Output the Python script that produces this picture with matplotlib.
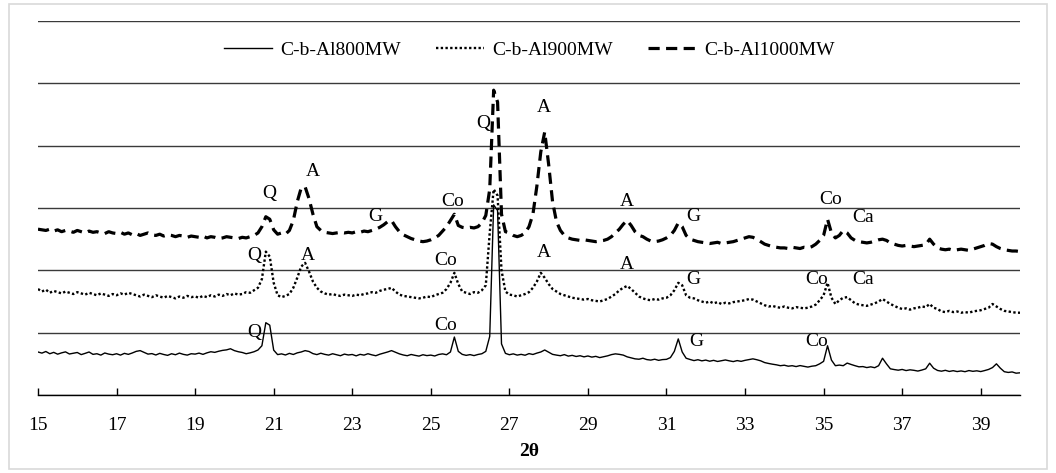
import matplotlib
matplotlib.use('Agg')
import matplotlib.pyplot as plt
from matplotlib.patches import Rectangle
import numpy as np

plt.rcParams['font.family'] = ['Liberation Serif', 'DejaVu Serif']

# 2theta grid, 15 to 40 in 0.1 steps
two_theta = np.round(np.arange(15.0, 40.05, 0.1), 1)

al800 = [
    690, 672, 698, 662, 684, 655, 676, 692, 658, 670,
    682, 648, 668, 690, 652, 662, 640, 674, 656, 646,
    662, 640, 668, 652, 674, 700, 712, 684, 656, 664,
    642, 668, 650, 636, 662, 646, 672, 652, 640, 662,
    656, 672, 652, 676, 694, 684, 702, 716, 724, 742,
    712, 694, 682, 662, 676, 694, 722, 790, 1160, 1120,
    720, 648, 660, 642, 668, 650, 676, 690, 712, 698,
    664, 648, 670, 652, 640, 662, 646, 630, 656, 642,
    650, 628, 652, 640, 662, 644, 630, 654, 672, 690,
    712, 686, 660, 642, 630, 650, 636, 624, 646, 632,
    640, 626, 650, 660, 646, 690, 930, 700, 652, 636,
    648, 632, 650, 662, 700, 940, 3050, 2960, 820, 668,
    646, 660, 640, 652, 638, 664, 650, 672, 690, 722,
    686, 652, 640, 630, 648, 624, 636, 618, 630, 612,
    626, 608, 620, 600, 614, 628, 648, 660, 652, 640,
    612, 596, 580, 574, 590, 568, 560, 574, 556, 568,
    572, 600, 700, 900, 690, 590, 570, 552, 566, 548,
    560, 542, 556, 538, 550, 562, 548, 536, 552, 540,
    556, 568, 580, 566, 548, 520, 506, 494, 484, 470,
    478, 462, 470, 456, 472, 460, 448, 462, 470, 500,
    540, 790, 560, 470, 480, 470, 512, 490, 470, 452,
    456, 440, 452, 438, 470, 590, 500, 420, 408, 398,
    410, 392, 404, 396, 384, 400, 420, 510, 430, 394,
    382, 396, 378, 390, 376, 386, 374, 392, 380, 388,
    376, 392, 410, 440, 500, 430, 374, 362, 370, 350,
    356,
]

al900 = [
    1700, 1660, 1690, 1640, 1670, 1650, 1630, 1660, 1640, 1620,
    1650, 1630, 1610, 1640, 1620, 1600, 1630, 1610, 1590, 1620,
    1600, 1630, 1610, 1640, 1620, 1600, 1580, 1610, 1590, 1570,
    1600, 1580, 1560, 1590, 1570, 1550, 1580, 1560, 1590, 1570,
    1580, 1560, 1590, 1570, 1600, 1580, 1610, 1590, 1620, 1600,
    1630, 1610, 1620, 1650, 1640, 1680, 1720, 1860, 2300, 2220,
    1800, 1600, 1570, 1590, 1620, 1720, 1880, 2060, 2120, 1980,
    1820, 1720, 1660, 1630, 1610, 1620, 1600, 1590, 1610, 1600,
    1590, 1610, 1600, 1620, 1630, 1650, 1640, 1670, 1690, 1700,
    1720, 1660, 1610, 1590, 1580, 1570, 1560, 1550, 1560, 1580,
    1570, 1600, 1620, 1640, 1700, 1800, 1960, 1780, 1660, 1640,
    1620, 1650, 1640, 1680, 1760, 2600, 3300, 3200, 2000, 1660,
    1610, 1600, 1580, 1600, 1620, 1650, 1720, 1820, 1960, 1880,
    1780, 1700, 1660, 1620, 1600, 1580, 1560, 1550, 1540, 1530,
    1540, 1520, 1510, 1500, 1520, 1540, 1580, 1620, 1680, 1720,
    1750, 1700, 1640, 1580, 1550, 1530, 1520, 1540, 1530, 1550,
    1560, 1600, 1680, 1800, 1760, 1600, 1560, 1550, 1520, 1500,
    1480, 1500, 1470, 1490, 1460, 1480, 1470, 1490, 1500, 1510,
    1520, 1540, 1530, 1500, 1470, 1440, 1420, 1430, 1410, 1400,
    1420, 1400, 1390, 1410, 1400, 1390, 1400, 1420, 1450, 1520,
    1600, 1800, 1560, 1460, 1520, 1560, 1570, 1520, 1470, 1450,
    1440, 1430, 1450, 1470, 1500, 1540, 1500, 1460, 1430, 1400,
    1380, 1390, 1370, 1390, 1400, 1420, 1410, 1460, 1400, 1380,
    1340, 1330, 1350, 1330, 1340, 1320, 1330, 1320, 1340, 1350,
    1360, 1380, 1400, 1460, 1420, 1380, 1350, 1340, 1330, 1320,
    1320,
]

al1000 = [
    2660, 2650, 2640, 2660, 2630, 2650, 2620, 2640, 2630, 2610,
    2640, 2620, 2600, 2630, 2610, 2620, 2600, 2590, 2620, 2600,
    2590, 2610, 2580, 2600, 2570, 2590, 2560, 2580, 2600, 2570,
    2560, 2580, 2550, 2570, 2560, 2540, 2560, 2550, 2530, 2550,
    2540, 2530, 2550, 2520, 2540, 2530, 2510, 2520, 2540, 2530,
    2520, 2510, 2530, 2520, 2540, 2560, 2600, 2700, 2860, 2820,
    2650, 2580, 2600, 2580, 2640, 2800, 3100, 3320, 3340, 3150,
    2900, 2700, 2640, 2610, 2600, 2590, 2600, 2610, 2600, 2610,
    2600, 2620, 2610, 2630, 2620, 2640, 2660, 2690, 2730, 2780,
    2800, 2700, 2620, 2570, 2540, 2510, 2490, 2470, 2460, 2470,
    2490, 2520, 2560, 2630, 2700, 2800, 2900, 2720, 2690, 2680,
    2690, 2680, 2700, 2760, 2880, 3300, 4890, 4700, 2900, 2620,
    2600, 2560, 2540, 2560, 2600, 2700, 2900, 3350, 3900, 4220,
    3700, 3100, 2780, 2640, 2560, 2520, 2500, 2490, 2480, 2490,
    2480, 2470, 2460, 2470, 2480, 2500, 2540, 2600, 2660, 2740,
    2800, 2720, 2620, 2560, 2540, 2500, 2470, 2460, 2470, 2490,
    2520, 2560, 2640, 2760, 2700, 2560, 2500, 2480, 2460, 2450,
    2440, 2430, 2440, 2450, 2430, 2440, 2450, 2460, 2480, 2500,
    2520, 2540, 2530, 2500, 2460, 2420, 2400, 2380, 2370, 2360,
    2360, 2350, 2370, 2360, 2350, 2370, 2360, 2380, 2420, 2480,
    2560, 2820, 2600, 2520, 2560, 2640, 2600, 2520, 2480, 2460,
    2450, 2440, 2450, 2470, 2490, 2500, 2480, 2440, 2420, 2400,
    2390, 2400, 2390, 2380, 2390, 2400, 2410, 2500, 2420, 2360,
    2340, 2330, 2340, 2320, 2330, 2340, 2330, 2320, 2340, 2360,
    2380, 2400, 2430, 2420, 2380, 2350, 2330, 2320, 2310, 2310,
    2300,
]

# peak labels: (text, 2theta, height)
peak_labels = [
    ('Q', 20.88, 3240), ('A', 22.0, 3590), ('G', 23.6, 2870), ('Co', 25.56, 3100),
    ('Q', 26.33, 4360), ('A', 27.88, 4620), ('A', 29.99, 3110), ('G', 31.68, 2860),
    ('Co', 35.19, 3140), ('Ca', 36.0, 2840),
    ('Q', 20.5, 2230), ('A', 21.87, 2230), ('Co', 25.39, 2150), ('A', 27.88, 2280),
    ('A', 29.99, 2100), ('G', 31.68, 1845), ('Co', 34.83, 1845), ('Ca', 36.0, 1845),
    ('Q', 20.5, 1010), ('Co', 25.39, 1120), ('G', 31.75, 866), ('Co', 34.81, 866),
]

fig = plt.figure(figsize=(10.56, 4.73), dpi=100)
ax = fig.add_axes([38/1056, 1 - 395/473, (1020 - 38)/1056, (395 - 21)/473])

ax.plot(two_theta, al800, color='black', lw=1.0, label='C-b-Al800MW')
ax.plot(two_theta, al900, color='black', lw=1.7, linestyle=(0, (1, 1)), label='C-b-Al900MW')
ax.plot(two_theta, al1000, color='black', lw=2.3, linestyle=(0, (3.5, 2)), label='C-b-Al1000MW')

for txt, x, y in peak_labels:
    ax.text(x, y, txt, ha='center', va='center', fontsize=14)

ax.set_xlim(15, 40)
ax.set_ylim(0, 6000)
ax.set_xticks(np.arange(15, 40, 2))
ax.set_yticks(np.arange(0, 7000, 1000))
ax.tick_params(axis='y', left=False, labelleft=False)
ax.tick_params(axis='x', direction='in', length=5, width=1, pad=16, labelsize=14)
ax.grid(axis='y', color='#3a3a3a', lw=1.0)
ax.set_axisbelow(True)
for s in ['left', 'right', 'top']:
    ax.spines[s].set_visible(False)
ax.spines['bottom'].set_linewidth(1.0)
ax.set_xlabel('2θ', fontsize=14, fontweight='bold', labelpad=6)

ax.legend(loc='center', bbox_to_anchor=(0.5, 0.922), ncol=3, frameon=False,
          fontsize=14, handlelength=2.5, handletextpad=0.4, columnspacing=1.8)

fig.patches.append(Rectangle((9/1056, 4/473), 1038/1056, 465/473, transform=fig.transFigure,
                             fill=False, edgecolor='#d9d9d9', lw=1.2))

fig.savefig('out.png', dpi=100)
